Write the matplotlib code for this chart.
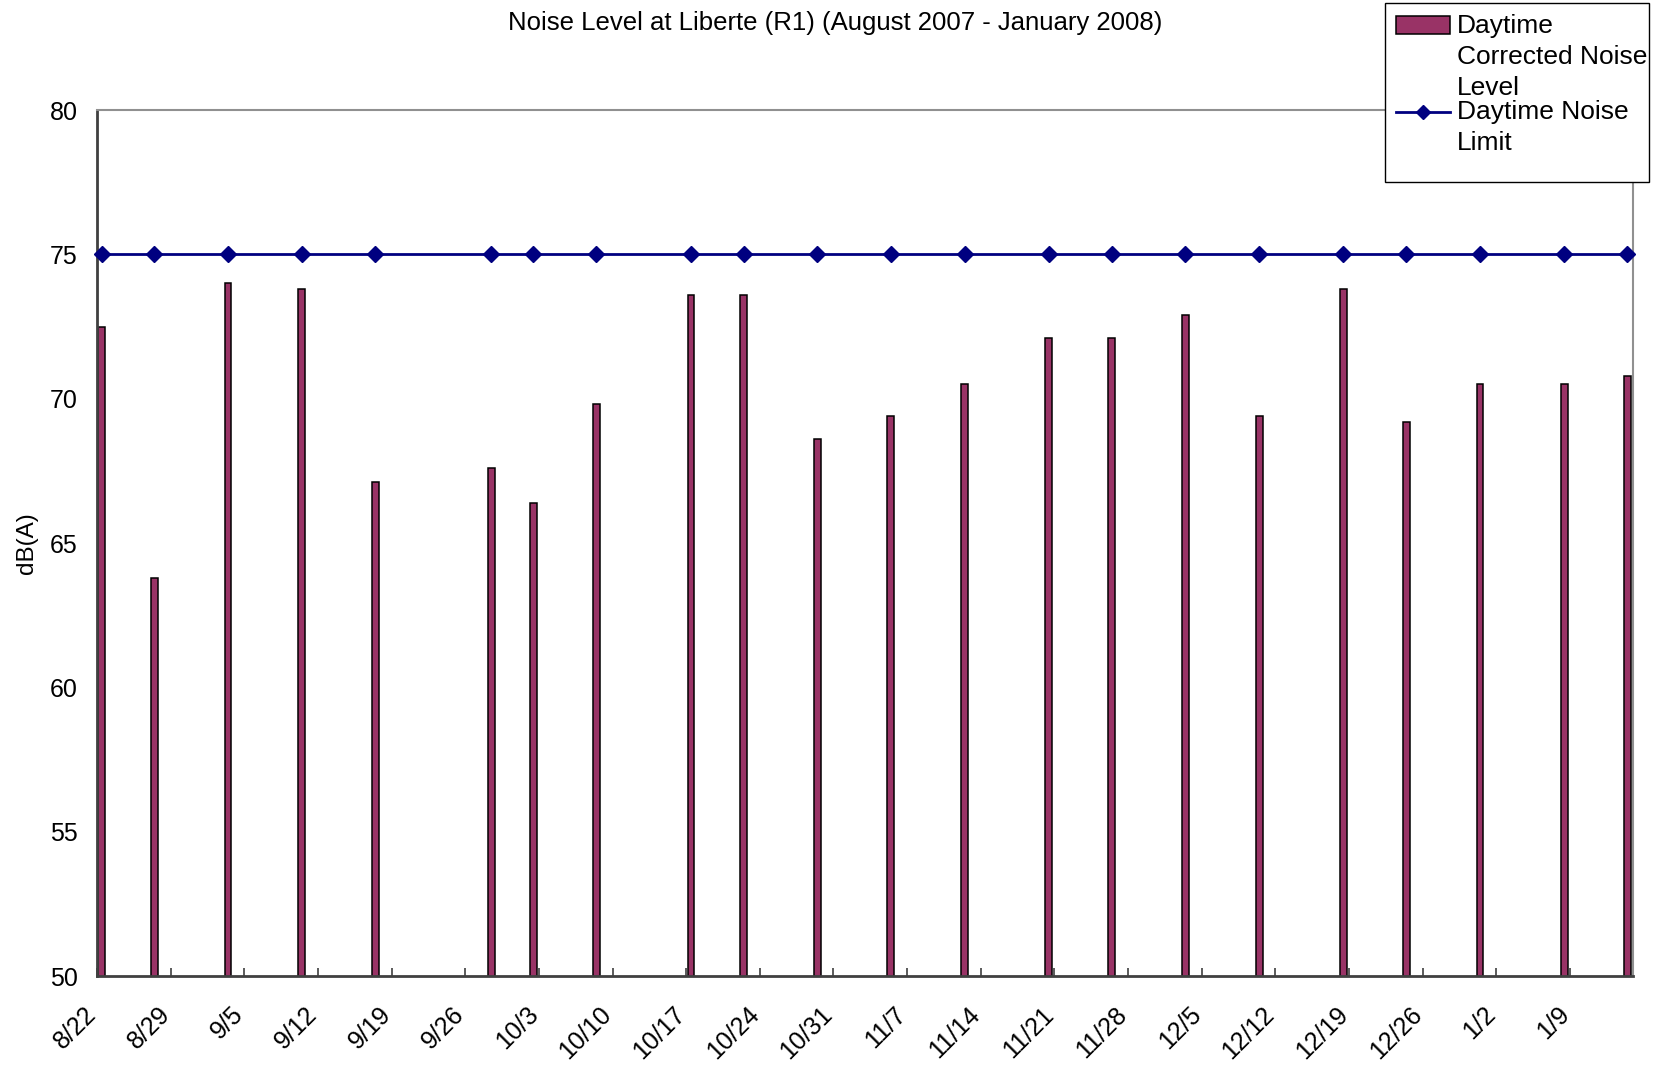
"""
Nivel de ruido diurno en Liberte (R1), agosto 2007 - enero 2008.
"""
import matplotlib
matplotlib.use("Agg")
import matplotlib.pyplot as plt
import matplotlib.transforms as mtransforms
from matplotlib.legend_handler import HandlerLine2D, HandlerPatch
from matplotlib.lines import Line2D
from matplotlib.patches import Patch, Rectangle
import pandas as pd

plt.rcParams["font.family"] = ["Liberation Sans", "DejaVu Sans"]

# --- Datos ---
fechas = [
    "2007-08-22", "2007-08-27", "2007-09-03", "2007-09-10", "2007-09-17",
    "2007-09-28", "2007-10-02", "2007-10-08", "2007-10-17", "2007-10-22",
    "2007-10-29", "2007-11-05", "2007-11-12", "2007-11-20", "2007-11-26",
    "2007-12-03", "2007-12-10", "2007-12-18", "2007-12-24", "2007-12-31",
    "2008-01-08", "2008-01-14",
]
nivel_corregido = [
    72.5, 63.8, 74.0, 73.8, 67.1,
    67.6, 66.4, 69.8, 73.6, 73.6,
    68.6, 69.4, 70.5, 72.1, 72.1,
    72.9, 69.4, 73.8, 69.2, 70.5,
    70.5, 70.8,
]
limite_diurno = [
    75, 75, 75, 75, 75,
    75, 75, 75, 75, 75,
    75, 75, 75, 75, 75,
    75, 75, 75, 75, 75,
    75, 75,
]
etiquetas_x = [
    "8/22", "8/29", "9/5", "9/12", "9/19", "9/26", "10/3", "10/10", "10/17",
    "10/24", "10/31", "11/7", "11/14", "11/21", "11/28", "12/5", "12/12",
    "12/19", "12/26", "1/2", "1/9",
]
ticks_y = [50, 55, 60, 65, 70, 75, 80]

W, H = 1654, 1067
PASO_LINEA = 1.21  # distancia entre líneas de la leyenda, en tamaños de fuente


# --- Manejadores de leyenda: el símbolo va alineado con la primera línea ---
class _PatchArriba(HandlerPatch):
    def __init__(self, lineas, **kw):
        super().__init__(**kw)
        self.lineas = lineas

    def create_artists(self, legend, orig_handle, xdescent, ydescent,
                       width, height, fontsize, trans):
        d = self.lineas * PASO_LINEA * fontsize
        return super().create_artists(legend, orig_handle, xdescent,
                                      ydescent - d, width, height,
                                      fontsize, trans)


class _LineaArriba(HandlerLine2D):
    def __init__(self, lineas, **kw):
        super().__init__(**kw)
        self.lineas = lineas

    def create_artists(self, legend, orig_handle, xdescent, ydescent,
                       width, height, fontsize, trans):
        d = self.lineas * PASO_LINEA * fontsize
        return super().create_artists(legend, orig_handle, xdescent,
                                      ydescent - 2 * d, width, height,
                                      fontsize, trans)


# --- Figura ---
x = pd.to_datetime(fechas) + pd.Timedelta(hours=11)

fig = plt.figure(figsize=(W / 100, H / 100), dpi=100)
ax = fig.add_axes([97 / W, 1 - 976 / H, (1633 - 97) / W, (976 - 110) / H])

ax.bar(x, nivel_corregido, width=0.65, color="#993366",
       edgecolor="black", linewidth=1.1, zorder=2)
ax.plot(x, limite_diurno, color="#000080", linewidth=2.0, marker="D",
        markersize=8, zorder=3, clip_on=False)

inicio = pd.Timestamp("2007-08-22")
fin = pd.Timestamp("2008-01-15")
ax.set_xlim(inicio, fin)
ax.set_ylim(50, 80)

pos_x = pd.date_range(inicio, periods=len(etiquetas_x), freq="7D")
ax.set_xticks(pos_x)
ax.set_xticklabels(etiquetas_x, rotation=45, ha="right", va="top",
                   rotation_mode="anchor", fontsize=18)
ax.tick_params(axis="x", direction="in", length=6, width=1.2,
               color="#404040", pad=19)
corrimiento = mtransforms.ScaledTranslation(-13 / 100, 0, fig.dpi_scale_trans)
for etiqueta in ax.get_xticklabels():
    etiqueta.set_transform(etiqueta.get_transform() + corrimiento)

ax.set_yticks(ticks_y)
ax.set_yticklabels([str(t) for t in ticks_y], fontsize=18)
ax.tick_params(axis="y", length=0, pad=14)
ax.set_ylabel("dB(A)", fontsize=17.5, labelpad=8)

for lado in ["left", "bottom"]:
    ax.spines[lado].set_color("#404040")
    ax.spines[lado].set_linewidth(2.0)
for lado in ["top", "right"]:
    ax.spines[lado].set_color("#909090")
    ax.spines[lado].set_linewidth(1.5)

fig.text(835 / W, 1 - 23 / H,
         "Noise Level at Liberte (R1) (August 2007 - January 2008)",
         ha="center", va="center", fontsize=18.5)

# marco de la leyenda (tapa la esquina del área de trazado)
fig.patches.append(Rectangle((1385 / W, 1 - 182 / H), (1649 - 1385) / W,
                             (182 - 3) / H, transform=fig.transFigure,
                             facecolor="white", edgecolor="black",
                             linewidth=1.0, zorder=4))

handles = [
    Patch(facecolor="#993366", edgecolor="black", linewidth=1.1),
    Line2D([], [], color="#000080", linewidth=2.0, marker="D", markersize=7),
]
labels = ["Daytime\nCorrected Noise\nLevel", "Daytime Noise\nLimit"]
leg = fig.legend(handles, labels, loc="upper left",
                 bbox_to_anchor=(1385 / W, 1 - 3 / H),
                 fontsize=19, frameon=False, borderpad=0.4, labelspacing=0.0,
                 handlelength=2.08, handleheight=0.64, handletextpad=0.23,
                 borderaxespad=0,
                 handler_map={handles[0]: _PatchArriba(1),
                              handles[1]: _LineaArriba(0.5)})
leg.set_zorder(5)
for t in leg.get_texts():
    t.set_linespacing(1.37)

fig.savefig("out.png", dpi=100)
